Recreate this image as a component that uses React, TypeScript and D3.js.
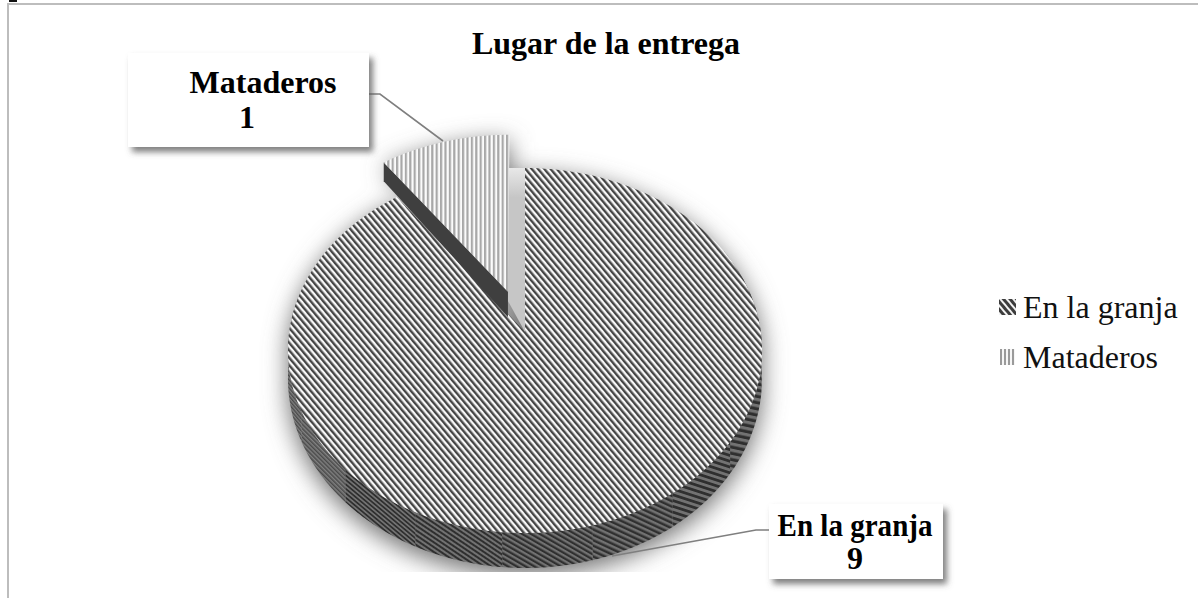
import * as d3 from "d3";

const categories = ["En la granja", "Mataderos"];
const values = [9, 1];
const chartTitle = "Lugar de la entrega";

const WIDTH = 1198;
const HEIGHT = 598;
const FONT = "'Liberation Serif', 'Times New Roman', serif";

// pie plane -> screen, a simple perspective so the near side looks bigger
const CX = 525;
const CY = 332;
const RX = 235.8;
const RY = 180.6;
const PERSP = 0.1015;
const EXPLODE = 0.24;

const toX = d3.scaleLinear().domain([-1, 1]).range([CX - RX, CX + RX]);
const toY = d3.scaleLinear().domain([-1, 1]).range([CY - RY, CY + RY]);

type Pt = [number, number];

function project(u: number, v: number, drop = 0): Pt {
  const w = 1 - PERSP * v;
  return [toX(u / w), toY(v / w) + drop];
}

// wall height shrinks towards the back
const depth = (v: number) => 27 + 8 * v;

const line = d3.line<Pt>();

const slices = d3
  .pie<number>()
  .sort(null)
  .value((d) => d)(values);

const toRad = (deg: number) => (deg * Math.PI) / 180;

function rim(a0: number, a1: number, ou = 0, ov = 0, drop = false): Pt[] {
  const n = Math.max(2, Math.ceil(Math.abs(a1 - a0) / 0.01));
  return d3.range(n + 1).map((i) => {
    const a = a0 + ((a1 - a0) * i) / n;
    const u = Math.sin(a) + ou;
    const v = -Math.cos(a) + ov;
    return project(u, v, drop ? depth(v) : 0);
  });
}

const main = slices[0];
const small = slices[1];
const mid = (small.startAngle + small.endAngle) / 2;
const ou = Math.sin(mid) * EXPLODE;
const ov = -Math.cos(mid) * EXPLODE;

const mainFace =
  line([project(0, 0), ...rim(main.startAngle, main.endAngle)])! + "Z";
const smallFace =
  line([project(ou, ov), ...rim(small.startAngle, small.endAngle, ou, ov)])! + "Z";

// side of the cut slice
const smallOuter = rim(small.startAngle, small.startAngle, ou, ov)[0];
const smallOuterV = -Math.cos(small.startAngle) + ov;
const smallSide =
  line([
    project(ou, ov),
    smallOuter,
    [smallOuter[0], smallOuter[1] + depth(smallOuterV)],
    project(ou, ov, depth(ov)),
  ])! + "Z";

// grey cut face of the big slice
const cutTop = project(0, -1);
const cutApex = project(0, 0);
const smallApex = project(ou, ov);
const cutFace =
  line([
    cutTop,
    cutApex,
    [smallApex[0], smallApex[1] + depth(ov) - 16],
    [smallApex[0], cutTop[1]],
  ])! + "Z";

// outer wall, cut in bands because the stripes bend round the rim
const wallBands = [
  { from: 62, to: 100, angle: -80, period: 6.4 },
  { from: 100, to: 125, angle: -78, period: 6.1 },
  { from: 125, to: 145, angle: -72, period: 5.5 },
  { from: 145, to: 165, angle: -65, period: 4.9 },
  { from: 165, to: 185, angle: -60, period: 4.4 },
  { from: 185, to: 205, angle: -56, period: 4 },
  { from: 205, to: 225, angle: -50, period: 3.4 },
  { from: 225, to: 245, angle: -45, period: 3 },
  { from: 245, to: 282, angle: -40, period: 2.6 },
];

function wall(a0: number, a1: number) {
  const top = rim(toRad(a0), toRad(a1));
  const bottom = rim(toRad(a0), toRad(a1), 0, 0, true).reverse();
  return line([...top, ...bottom])! + "Z";
}

const wallAll = wall(62, 282);

function Stripes({
  id,
  period,
  angle,
  dark,
  light,
  share = 0.5,
}: {
  id: string;
  period: number;
  angle: number;
  dark: string;
  light: string;
  share?: number;
}) {
  return (
    <pattern
      id={id}
      width={period}
      height={period}
      patternUnits="userSpaceOnUse"
      patternTransform={`rotate(${angle})`}
    >
      <rect width={period} height={period} fill={light} />
      <rect width={period * share} height={period} fill={dark} />
    </pattern>
  );
}

function Callout({
  box,
  leader,
  lines,
}: {
  box: { x: number; y: number; w: number; h: number };
  leader: Pt[];
  lines: { text: string; x: number; y: number; fit?: number }[];
}) {
  return (
    <g>
      <path d={line(leader)!} fill="none" stroke="#7f7f7f" strokeWidth={1.6} />
      <rect x={box.x} y={box.y} width={box.w} height={box.h} fill="#fff" filter="url(#boxShadow)" />
      {lines.map((l) => (
        <text
          key={l.text}
          x={l.x}
          y={l.y}
          textAnchor="middle"
          fontFamily={FONT}
          fontWeight="bold"
          fontSize={32}
          fill="#000"
          textLength={l.fit}
          lengthAdjust={l.fit ? "spacingAndGlyphs" : undefined}
        >
          {l.text}
        </text>
      ))}
    </g>
  );
}

export default function App() {
  const legendY = d3.scalePoint<string>().domain(categories).range([318, 368]);

  return (
    <svg
      width={WIDTH}
      height={HEIGHT}
      style={{ position: "absolute", left: 0, top: 0, display: "block", background: "#fff" }}
    >
      <defs>
        <Stripes id="faceMain" period={4.8} angle={-40} dark="#454545" light="#f8f8f8" />
        <Stripes id="faceSmall" period={4.4} angle={0} dark="#a8a8a8" light="#fbfbfb" />
        <Stripes id="legendMain" period={5} angle={-40} dark="#3c3c3c" light="#f2f2f2" share={0.6} />
        <Stripes id="legendSmall" period={4} angle={0} dark="#9a9a9a" light="#f6f6f6" />
        {wallBands.map((b, i) => (
          <Stripes
            key={i}
            id={`wall${i}`}
            period={b.period}
            angle={b.angle}
            dark={i > 6 ? "#4a4a4a" : "#2f2f2f"}
            light={i > 6 ? "#808080" : "#727272"}
          />
        ))}
        <filter id="pieShadow" x="-20%" y="-20%" width="140%" height="140%">
          <feGaussianBlur stdDeviation={12} />
        </filter>
        <filter id="boxShadow" x="-10%" y="-20%" width="125%" height="145%">
          <feDropShadow dx={4} dy={5} stdDeviation={3} floodColor="#555" floodOpacity={0.75} />
        </filter>
        <linearGradient id="cutFade" x1="0" x2="0" y1="0" y2="1">
          <stop offset="0" stopColor="#e8e8e8" />
          <stop offset="0.18" stopColor="#c6c6c6" />
          <stop offset="1" stopColor="#c6c6c6" />
        </linearGradient>
        <clipPath id="pieClip">
          <rect x={0} y={0} width={WIDTH} height={572} />
        </clipPath>
      </defs>

      {/* frame, only top and left show */}
      <rect x={9} y={0} width={8} height={2} fill="#111" />
      <path d={`M8,${HEIGHT}V4H${WIDTH}`} fill="none" stroke="#bdbdbd" strokeWidth={2} />

      <text
        x={606}
        y={54}
        textAnchor="middle"
        fontFamily={FONT}
        fontWeight="bold"
        fontSize={32}
        fill="#000"
      >
        {chartTitle}
      </text>

      <g clipPath="url(#pieClip)">
        <g filter="url(#pieShadow)" fill="#707070" transform="translate(0,7)">
          <path d={wallAll} />
          <path d={mainFace} />
          <path d={smallFace} />
          <path d={cutFace} />
        </g>
        <path d={cutFace} fill="url(#cutFade)" />
        {wallBands.map((b, i) => (
          <path key={i} d={wall(b.from, b.to)} fill={`url(#wall${i})`} />
        ))}
        <path d={mainFace} fill="url(#faceMain)" />
        <path d={smallSide} fill="#3f3f3f" />
        <path d={smallFace} fill="url(#faceSmall)" />
      </g>

      <Callout
        box={{ x: 128, y: 53, w: 241, h: 94 }}
        leader={[
          [369, 94],
          [380, 94],
          [443, 141],
        ]}
        lines={[
          { text: categories[1], x: 263, y: 93 },
          { text: String(values[1]), x: 247, y: 128 },
        ]}
      />
      <Callout
        box={{ x: 769, y: 504, w: 174, h: 75 }}
        leader={[
          [769, 530],
          [756, 530],
          [612, 556],
        ]}
        lines={[
          { text: categories[0], x: 855, y: 536, fit: 155 },
          { text: String(values[0]), x: 855, y: 569 },
        ]}
      />

      {categories.map((c, i) => (
        <g key={c}>
          <rect
            x={999 + i}
            y={legendY(c)! - 19}
            width={17 - i * 2}
            height={16}
            fill={i === 0 ? "url(#legendMain)" : "url(#legendSmall)"}
          />
          <text x={1023} y={legendY(c)!} fontFamily={FONT} fontSize={32} fill="#111">
            {c}
          </text>
        </g>
      ))}
    </svg>
  );
}
